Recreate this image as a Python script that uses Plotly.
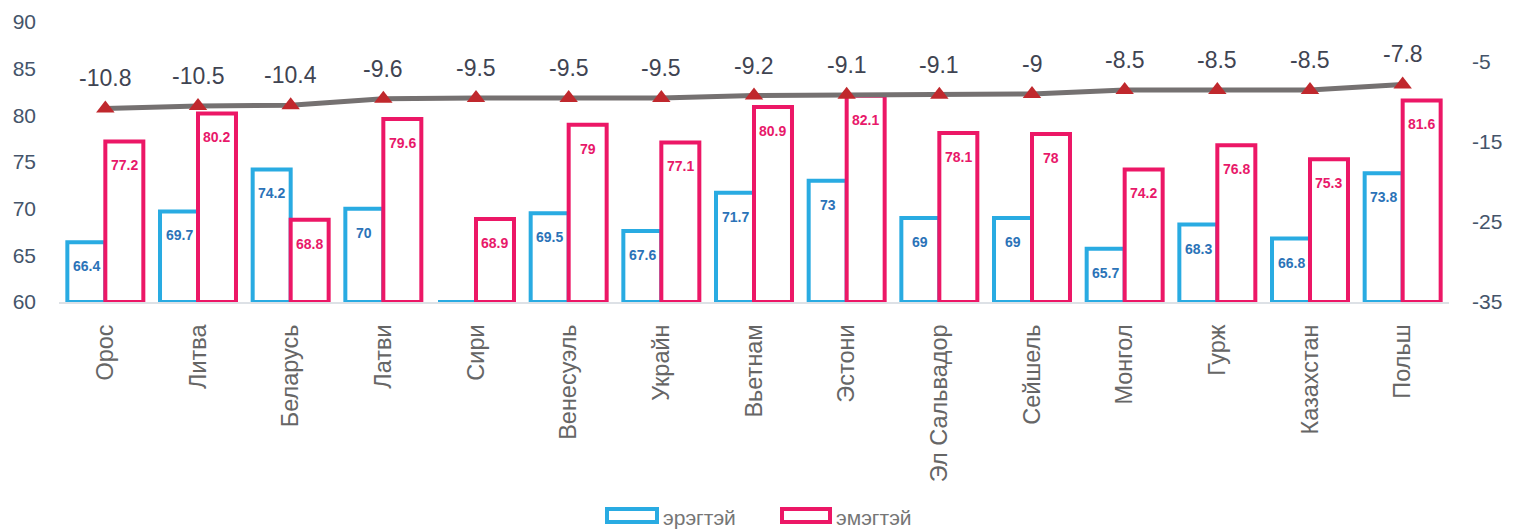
import plotly.graph_objects as go

countries = ["Орос", "Литва", "Беларусь", "Латви", "Сири", "Венесуэль", "Украйн", "Вьетнам",
             "Эстони", "Эл Сальвадор", "Сейшель", "Монгол", "Гурж", "Казахстан", "Польш"]
male = [66.4, 69.7, 74.2, 70, None, 69.5, 67.6, 71.7, 73, 69, 69, 65.7, 68.3, 66.8, 73.8]
female = [77.2, 80.2, 68.8, 79.6, 68.9, 79, 77.1, 80.9, 82.1, 78.1, 78, 74.2, 76.8, 75.3, 81.6]
gap = [-10.8, -10.5, -10.4, -9.6, -9.5, -9.5, -9.5, -9.2, -9.1, -9.1, -9.0, -8.5, -8.5, -8.5, -7.8]
series_names = ["эрэгтэй", "эмэгтэй"]
left_ticks = [60, 65, 70, 75, 80, 85, 90]
right_ticks = [-35, -25, -15, -5]
base_val = 60

BLUE = "#29ABE2"
PINK = "#EC1766"
BLUE_TXT = "#2B73B8"
PINK_TXT = "#E8196A"
FONT = "Liberation Sans, Arial, sans-serif"

OFF = 8  # page body margin
W, H = 1513 - OFF, 531 - OFF
ML, MR, MT, MB = 59 - OFF, 64, 22 - OFF, 229
PW = W - ML - MR
PH = H - MT - MB
BARGAP = 0.18
bar_px = PW / len(countries) * (1 - BARGAP) / 2


def fmt(v):
    return "" if v is None else ("%g" % v)


fig = go.Figure()
fig.add_trace(go.Bar(
    name=series_names[0], x=countries,
    y=[(v - base_val) if v is not None else 0 for v in male], base=base_val,
    marker=dict(color="white", line=dict(color=BLUE, width=4)),
    showlegend=False, hoverinfo="skip",
))
fig.add_trace(go.Bar(
    name=series_names[1], x=countries,
    y=[v - base_val for v in female], base=base_val,
    marker=dict(color="white", line=dict(color=PINK, width=4)),
    showlegend=False, hoverinfo="skip",
))
fig.add_trace(go.Scatter(
    x=countries, y=gap, mode="lines+markers", yaxis="y2", showlegend=False,
    line=dict(color="#757171", width=5),
    marker=dict(symbol="triangle-up", size=16, color="#C0282D"),
))

# bar value labels
for c, m, f in zip(countries, male, female):
    if m is not None:
        fig.add_annotation(x=c, y=m, text=fmt(m), showarrow=False, xshift=-bar_px / 2,
                           yshift=-24, font=dict(size=14, color=BLUE_TXT, family=FONT, weight="bold"))
    fig.add_annotation(x=c, y=f, text=fmt(f), showarrow=False, xshift=bar_px / 2,
                       yshift=-24, font=dict(size=14, color=PINK_TXT, family=FONT, weight="bold"))

# line labels
for c, g in zip(countries, gap):
    fig.add_annotation(x=c, y=g, yref="y2", text=fmt(g), showarrow=False,
                       yshift=30, font=dict(size=23, color="#3F4452", family=FONT))


# custom legend (wide rectangle symbols), positions in screen pixels
def px_x(px):
    return (px - OFF - ML) / PW


def px_y(py):
    return (MT + PH - (py - OFF)) / PH


legend_items = [(series_names[0], BLUE, 607, 657), (series_names[1], PINK, 782, 830)]
for name, col, x0, x1 in legend_items:
    fig.add_shape(type="rect", xref="paper", yref="paper",
                  x0=px_x(x0), x1=px_x(x1), y0=px_y(522), y1=px_y(509),
                  line=dict(color=col, width=4), fillcolor="white")
    fig.add_annotation(xref="paper", yref="paper", x=px_x(x1 + 4), y=px_y(517),
                       xanchor="left", yanchor="middle", text=name, showarrow=False,
                       font=dict(size=21, color="#767676", family=FONT))

fig.update_layout(
    width=W, height=H,
    margin=dict(l=ML, r=MR, t=MT, b=MB),
    paper_bgcolor="white", plot_bgcolor="white",
    barmode="group", bargap=BARGAP, bargroupgap=0,
    font=dict(family=FONT),
    showlegend=False,
    xaxis=dict(tickangle=-90, tickfont=dict(size=23.5, color="#666666"),
               range=[-0.5, len(countries) - 0.5],
               showline=True, linecolor="#DDE1E6", linewidth=2, ticks="",
               showgrid=False, automargin=False, ticklabelstandoff=11),
    yaxis=dict(range=[60, 90], tickvals=left_ticks, ticktext=[str(t) for t in left_ticks],
               showgrid=False, zeroline=False, tickfont=dict(size=21, color="#44546A"),
               ticks="", ticklabelstandoff=22, automargin=False),
    yaxis2=dict(range=[-35, 0], tickvals=right_ticks, ticktext=[str(t) for t in right_ticks],
                overlaying="y", side="right",
                showgrid=False, zeroline=False, tickfont=dict(size=21, color="#44546A"),
                ticks="", ticklabelstandoff=22, automargin=False),
)

fig.write_html("out.html")
